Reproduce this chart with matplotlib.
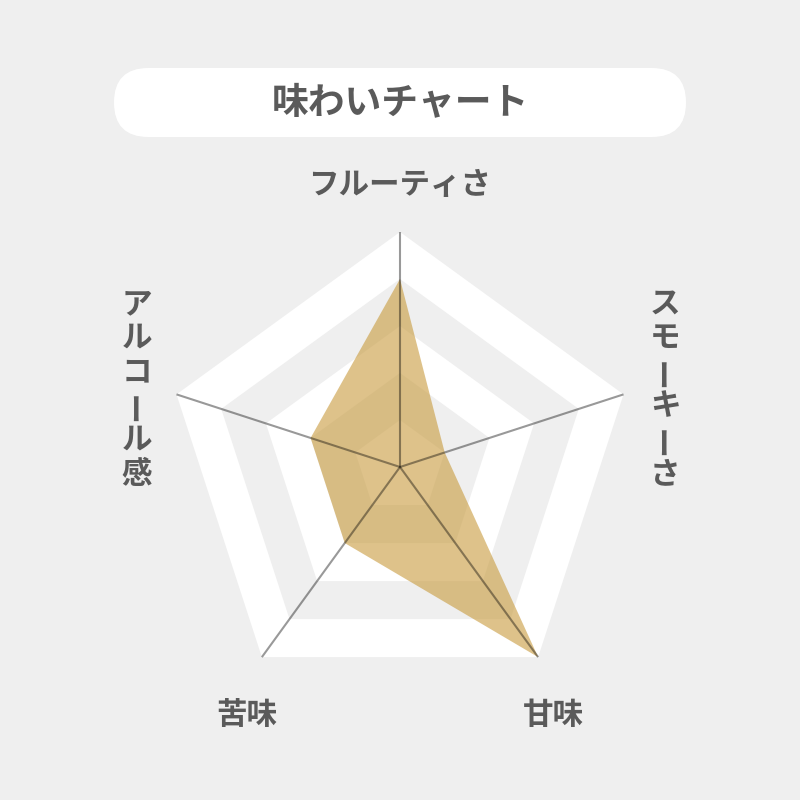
import numpy as np
import matplotlib
matplotlib.use('Agg')
import matplotlib.pyplot as plt
from matplotlib.patches import FancyBboxPatch, Polygon

plt.rcParams['font.family'] = ['Noto Sans CJK JP', 'DejaVu Sans']

title = '味わいチャート'
labels = ['フルーティさ', 'スモーキーさ', '甘味', '苦味', 'アルコール感']
values = [4, 1, 5, 2, 2]
max_value = 5

BG = '#efefef'
TEXT = '#5a5a5a'
FILL = '#c89a3c'

cx, cy, radius = 400, 467, 235
n = len(labels)
angles = np.deg2rad(90 - 72 * np.arange(n))


def pentagon(r):
    return np.column_stack([cx + r * np.cos(angles), cy - r * np.sin(angles)])


fig = plt.figure(figsize=(8, 8), dpi=100)
fig.patch.set_facecolor(BG)
ax = fig.add_axes([0, 0, 1, 1])
ax.set_xlim(0, 800)
ax.set_ylim(800, 0)
ax.set_aspect('equal')
ax.axis('off')

# title banner
banner = FancyBboxPatch((114, 68), 572, 69, boxstyle='round,pad=0,rounding_size=34.5',
                        facecolor='white', edgecolor='none')
ax.add_patch(banner)
ax.text(400, 103, title, ha='center', va='center', fontsize=26.5, fontweight='bold', color=TEXT)

# alternating bands, outermost first
for level in range(max_value, 0, -1):
    color = 'white' if level % 2 == 1 else BG
    ax.add_patch(Polygon(pentagon(radius * level / max_value), closed=True,
                         facecolor=color, edgecolor='none', zorder=1))

# data polygon
r = radius * np.array(values) / max_value
pts = np.column_stack([cx + r * np.cos(angles), cy - r * np.sin(angles)])
ax.add_patch(Polygon(pts, closed=True, facecolor=FILL, alpha=0.6, edgecolor='none', zorder=2))

# spokes
for x, y in pentagon(radius):
    ax.plot([cx, x], [cy, y], color='black', alpha=0.4, lw=1.5, zorder=3,
            solid_capstyle='butt')

# labels
kw = dict(ha='center', va='center', fontsize=22, fontweight='bold', color=TEXT)
ax.text(400, 185, labels[0], **kw)
ax.text(553, 715, labels[2], **kw)
ax.text(247, 715, labels[3], **kw)


def vertical(x, y_mid, s):
    step = 34
    y = y_mid - step * (len(s) - 1) / 2
    for ch in s:
        ax.text(x, y, ch, rotation=90 if ch == 'ー' else 0, **kw)
        y += step


vertical(665, 389, labels[1])
vertical(137, 389, labels[4])

fig.savefig('out.png', dpi=100, facecolor=BG)
